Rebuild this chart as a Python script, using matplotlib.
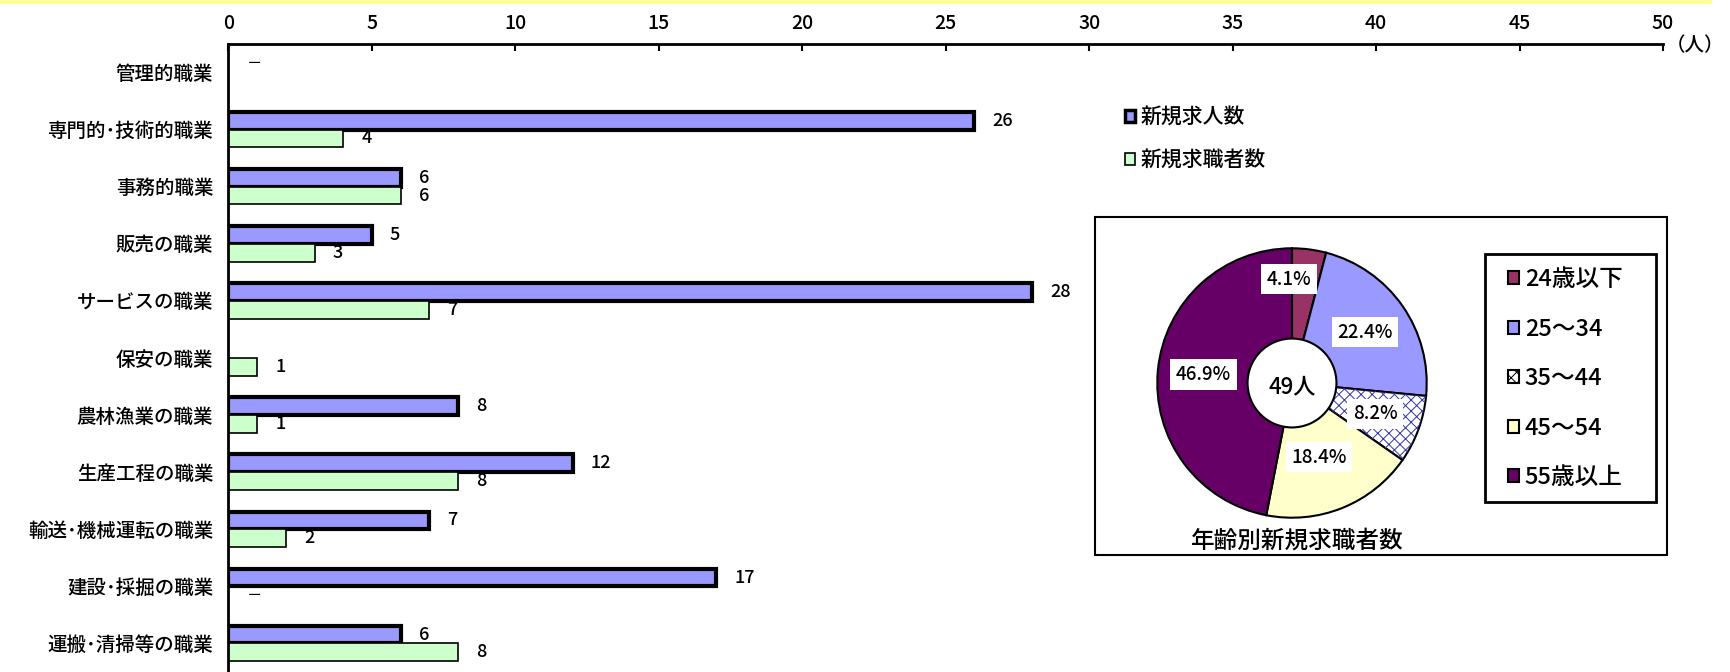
import numpy as np
import matplotlib.pyplot as plt
from matplotlib.patches import Patch, Rectangle, Circle, Wedge

plt.rcParams['font.family'] = ['Noto Sans CJK JP', 'DejaVu Sans']
plt.rcParams['font.weight'] = 'medium'
plt.rcParams['hatch.linewidth'] = 0.7

# bar chart data ('－' = shown as dash, None = blank)
categories = ['管理的職業', '専門的･技術的職業', '事務的職業', '販売の職業', 'サービスの職業',
              '保安の職業', '農林漁業の職業', '生産工程の職業', '輸送･機械運転の職業',
              '建設･採掘の職業', '運搬･清掃等の職業']
job_offers = ['－', 26, 6, 5, 28, None, 8, 12, 7, 17, 6]
job_seekers = [None, 4, 6, 3, 7, 1, 1, 8, 2, '－', 8]
series_names = ['新規求人数', '新規求職者数']
xticks = list(range(0, 51, 5))

# donut data
age_groups = ['24歳以下', '25～34', '35～44', '45～54', '55歳以上']
age_counts = [2, 11, 4, 9, 23]
age_colors = ['#993366', '#9999FF', 'white', '#FFFFCC', '#660066']

W, H = 1731, 672
fig = plt.figure(figsize=(W / 100, H / 100), dpi=100)

# yellow strip along the top
fig.patches.append(Rectangle((0, 1 - 4 / H), 1712 / W, 4 / H, transform=fig.transFigure,
                             facecolor='#FFFF99', edgecolor='none', zorder=0))

ax = fig.add_axes([228.5 / W, 0, (1663 - 228.5) / W, 1 - 44 / H])
y = np.arange(len(categories))
h = 0.31

def draw(values, offs, color, lw):
    for i, v in enumerate(values):
        if v is None:
            continue
        if v == '－':
            ax.annotate('－', (0, y[i] + offs), xytext=(13, 0), textcoords='offset points',
                        va='center', ha='left', fontsize=11)
            continue
        ax.barh(y[i] + offs, v, height=h, color=color, edgecolor='black', linewidth=lw)
        ax.annotate(str(v), (v, y[i] + offs), xytext=(13, 0), textcoords='offset points',
                    va='center', ha='left', fontsize=13)

draw(job_offers, -h / 2, '#9999FF', 3)
draw(job_seekers, h / 2, '#CCFFCC', 1.2)

ax.set_xlim(0, 50)
ax.set_ylim(len(categories) - 0.5, -0.5)
ax.xaxis.tick_top()
ax.set_xticks(xticks)
ax.tick_params(axis='x', direction='in', length=5, width=1.5, labelsize=14, pad=8)
ax.set_yticks(y, categories)
ax.tick_params(axis='y', length=0, pad=11, labelsize=14)
for s in ['right', 'bottom']:
    ax.spines[s].set_visible(False)
ax.spines['top'].set_linewidth(2)
ax.spines['left'].set_linewidth(2)

fig.text(1695 / W, 1 - 46 / H, '（人）', ha='center', va='center', fontsize=14)

handles = [Patch(facecolor='#9999FF', edgecolor='black', linewidth=2.5),
           Patch(facecolor='#CCFFCC', edgecolor='black', linewidth=1.2)]
fig.legend(handles, series_names, loc='upper left', bbox_to_anchor=(1106 / W, 1 - 88 / H),
           frameon=False, fontsize=15, handlelength=0.5, handleheight=0.5,
           handletextpad=0.25, labelspacing=1.0)

# donut panel
fig.patches.append(Rectangle((1095 / W, 1 - 555 / H), (1667 - 1095) / W, (555 - 217) / H,
                             transform=fig.transFigure, facecolor='white', edgecolor='black',
                             linewidth=1.5, zorder=2))
r = 134.7
cx, cy = 1292, 383
pax = fig.add_axes([(cx - r) / W, 1 - (cy + r) / H, 2 * r / W, 2 * r / H])
pax.set_zorder(3)
wedges, texts, autotexts = pax.pie(age_counts, colors=age_colors, startangle=90,
                                   counterclock=False, autopct='%.1f%%', pctdistance=0.66,
                                   wedgeprops=dict(edgecolor='black', linewidth=1.5),
                                   textprops=dict(fontsize=13.5))
pax.set_xlim(-1, 1)
pax.set_ylim(-1, 1)
for w in wedges:
    w.set_clip_on(False)
w = wedges[2]
pax.add_patch(Wedge((0, 0), 1, w.theta1, w.theta2, facecolor='none', edgecolor='#3333AA',
                    hatch='xxx', linewidth=0, clip_on=False))
pax.add_patch(Circle((0, 0), 0.33, facecolor='white', edgecolor='black', linewidth=1.5,
                     zorder=3, clip_on=False))
pax.text(0, -0.03, f'{sum(age_counts)}人', ha='center', va='center', fontsize=16, zorder=4)
autotexts[0].set_position((-0.02, 0.77))
autotexts[3].set_position((0.2, -0.55))
for t in autotexts:
    t.set_bbox(dict(facecolor='white', edgecolor='none', pad=4))
    t.set_zorder(5)

fig.text(1297 / W, 1 - 541 / H, '年齢別新規求職者数', ha='center', va='center', fontsize=17, zorder=5)

fig.patches.append(Rectangle((1485 / W, 1 - 502 / H), (1656 - 1485) / W, (502 - 254) / H,
                             transform=fig.transFigure, facecolor='white', edgecolor='black',
                             linewidth=2, zorder=3))
age_handles = [Patch(facecolor=c, edgecolor='black', linewidth=1.5, hatch='xxx' if i == 2 else None)
               for i, c in enumerate(age_colors)]
leg = fig.legend(age_handles, age_groups, loc='upper left', bbox_to_anchor=(1487 / W, 1 - 247 / H),
                 frameon=False, fontsize=17, handlelength=0.45, handleheight=0.45,
                 handletextpad=0.25, labelspacing=1.12)
leg.set_zorder(4)

fig.savefig('out.png', dpi=100)
